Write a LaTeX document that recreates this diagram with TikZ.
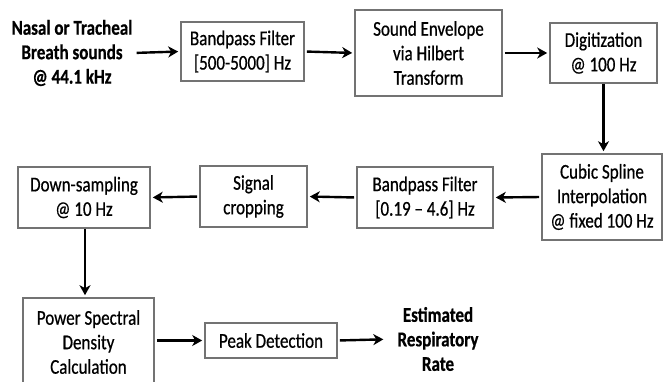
\documentclass[tikz,border=0pt]{standalone}
\usepackage{fontspec}
\setmainfont{Carlito}[FakeStretch=0.81, FakeBold=0.6]
\usetikzlibrary{arrows.meta}
\begin{document}
\begin{tikzpicture}[x=1pt,y=-1pt,
  every node/.style={font=\fontsize{21}{24.5}\selectfont, align=center, inner sep=0pt},
  blk/.style={draw=black!55, line width=1.6pt, fill=white, minimum width=#1},
  lbl/.style={font=\fontsize{21}{24.5}\selectfont\bfseries},
  arr/.style={line width=2.4pt, -{Stealth[length=10pt,width=11pt,inset=3pt]}, shorten >=2pt, shorten <=2pt}]
\useasboundingbox (0,0) rectangle (663,382);
\begin{scope}
\clip (0,0) rectangle (663,382);
\node[lbl] (in) at (72,53) {Nasal or Tracheal\\Breath sounds\\@ 44.1 kHz};
\node[blk=123pt, minimum height=59pt] (b1) at (242.5,51.5) {Bandpass Filter\\{}[500-5000] Hz};
\node[blk=147pt, minimum height=86pt] (b2) at (428.5,53) {Sound Envelope\\via Hilbert\\Transform};
\node[blk=107pt, minimum height=60pt] (b3) at (603.5,53) {Digitization\\@ 100 Hz};
\node[blk=120pt, minimum height=86pt] (b4) at (602,197) {Cubic Spline\\Interpolation\\@ fixed 100 Hz};
\node[blk=136pt, minimum height=61pt] (b5) at (425,197.5) {Bandpass Filter\\{}[0.19 -- 4.6] Hz};
\node[blk=107pt, minimum height=61pt] (b6) at (253.5,196.5) {Signal\\cropping};
\node[blk=132pt, minimum height=61pt] (b7) at (84,197.5) {Down-sampling\\@ 10 Hz};
\node[blk=131pt, minimum height=88pt] (b8) at (88.5,342) {Power Spectral\\Density\\Calculation};
\node[blk=132pt, minimum height=35pt] (b9) at (271,340.5) {Peak Detection};
\node[lbl] (out) at (438,339) {Estimated\\Respiratory\\Rate};
\end{scope}
\draw[arr, shorten <=4pt] (in.east) -- (b1.west);
\draw[arr] (b1.east) -- (b2.west);
\draw[arr] (b2.east) -- (b3.west);
\draw[arr, shorten <=0pt] (b3.south) -- (b3.south |- b4.north);
\draw[arr] (b4.west) -- (b5.east);
\draw[arr] (b5.west) -- (b6.east);
\draw[arr] (b6.west) -- (b7.east);
\draw[arr, shorten <=0pt] (b7.south -| 85,0) -- (85,0 |- b8.north);
\draw[arr] (b8.east |- b9.west) -- (b9.west);
\draw[arr, shorten >=14pt] (b9.east) -- (out.west);
\end{tikzpicture}
\end{document}
